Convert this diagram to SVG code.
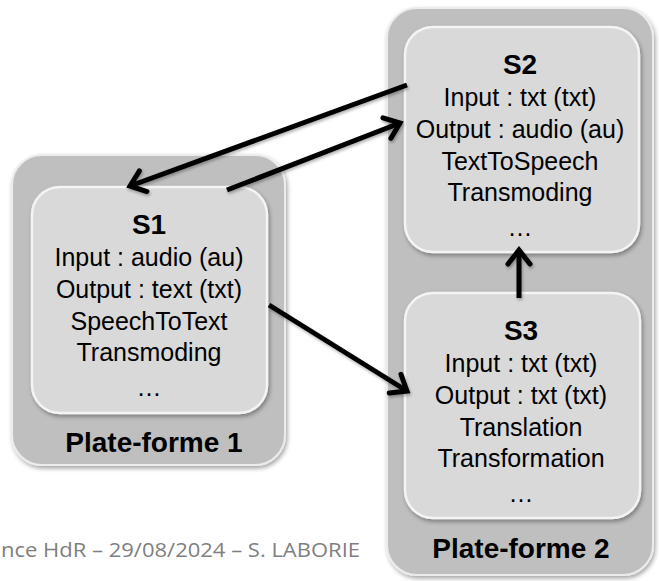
<svg xmlns="http://www.w3.org/2000/svg" width="659" height="581" viewBox="0 0 659 581">
<style>
.plat{fill:#bfbfbf;stroke:#ececec;stroke-width:2;filter:url(#sh)}
.svc{fill:#d9d9d9;stroke:#f4f4f4;stroke-width:2.5;filter:url(#sh)}
.t{font-family:"Liberation Sans",Arial,sans-serif;font-size:25px;fill:#000;text-anchor:middle}
.b{font-family:"Liberation Sans",Arial,sans-serif;font-size:28px;font-weight:bold;fill:#000;text-anchor:middle}
.arr{fill:none;stroke:#000;stroke-width:5;marker-end:url(#ah)}
.foot{font-family:"Open Sans","Noto Sans",sans-serif;font-size:20px;fill:#7f7f7f}
</style>
<defs>
<filter id="sh" x="-10%" y="-10%" width="125%" height="125%">
<feDropShadow dx="1.5" dy="2.5" stdDeviation="2" flood-color="#000" flood-opacity="0.35"/>
</filter>
<filter id="ash" filterUnits="userSpaceOnUse" x="0" y="0" width="659" height="581">
<feDropShadow dx="1" dy="2" stdDeviation="1.5" flood-color="#000" flood-opacity="0.3"/>
</filter>
<marker id="ah" markerUnits="userSpaceOnUse" viewBox="-22 -16 28 32" refX="0" refY="0" markerWidth="28" markerHeight="32" orient="auto">
<path d="M-14,-11 L0,0 L-14,11" fill="none" stroke="#000" stroke-width="5" stroke-linejoin="miter" stroke-linecap="round"/>
</marker>
</defs>
<rect width="659" height="581" fill="#fff"/>
<text class="foot" x="1" y="557" textLength="359" lengthAdjust="spacingAndGlyphs">nce HdR – 29/08/2024 – S. LABORIE</text>
<g id="plateforme1">
<rect class="plat" x="12" y="155" width="273" height="310" rx="30"/>
<text class="b" x="154" y="452">Plate-forme 1</text>
</g>
<g id="plateforme2">
<rect class="plat" x="387" y="8" width="266" height="567" rx="30"/>
<text class="b" x="521" y="558">Plate-forme 2</text>
</g>
<g id="S1">
<rect class="svc" x="32" y="187" width="235" height="226" rx="28"/>
<text class="b" x="149" y="234">S1</text>
<text class="t" x="149" y="266">Input : audio (au)</text>
<text class="t" x="149" y="298">Output : text (txt)</text>
<text class="t" x="149" y="330">SpeechToText</text>
<text class="t" x="149" y="361">Transmoding</text>
<text class="t" x="149" y="396">…</text>
</g>
<g id="S2">
<rect class="svc" x="405" y="27" width="234" height="225" rx="28"/>
<text class="b" x="520" y="74">S2</text>
<text class="t" x="520" y="106">Input : txt (txt)</text>
<text class="t" x="520" y="138">Output : audio (au)</text>
<text class="t" x="520" y="170">TextToSpeech</text>
<text class="t" x="520" y="201">Transmoding</text>
<text class="t" x="520" y="236">…</text>
</g>
<g id="S3">
<rect class="svc" x="405" y="293" width="235" height="225" rx="28"/>
<text class="b" x="521" y="340">S3</text>
<text class="t" x="521" y="372">Input : txt (txt)</text>
<text class="t" x="521" y="404">Output : txt (txt)</text>
<text class="t" x="521" y="436">Translation</text>
<text class="t" x="521" y="467">Transformation</text>
<text class="t" x="521" y="502">…</text>
</g>
<g id="connectors" filter="url(#ash)">
<line class="arr" x1="407" y1="85" x2="130" y2="186"/>
<line class="arr" x1="227" y1="190" x2="400" y2="123"/>
<line class="arr" x1="269" y1="305" x2="407" y2="391"/>
<line class="arr" x1="519" y1="298" x2="519" y2="250"/>
</g>
</svg>
